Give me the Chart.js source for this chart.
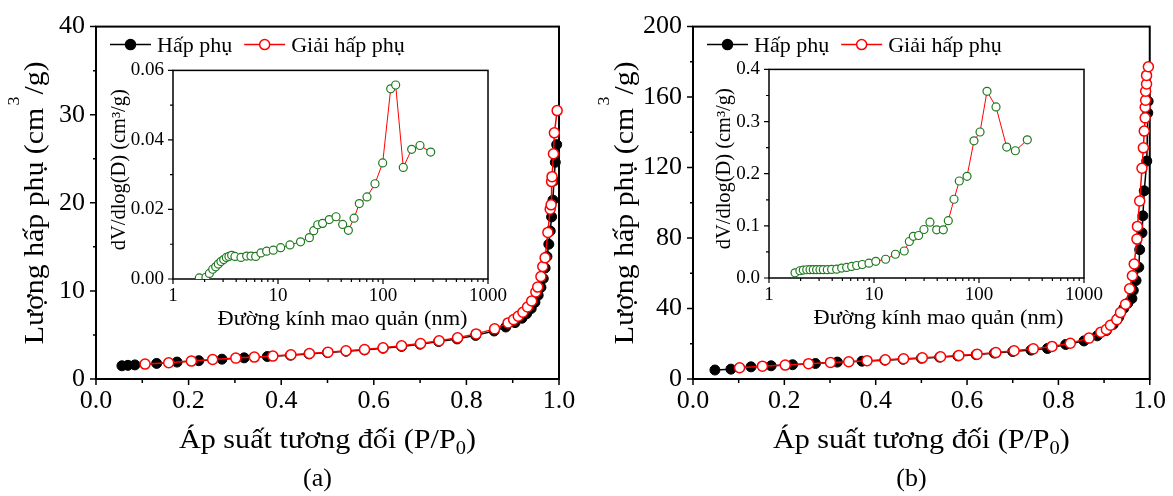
<!DOCTYPE html>
<html>
<head>
<meta charset="utf-8">
<script src="https://cdn.jsdelivr.net/npm/chart.js@4.4.1/dist/chart.umd.min.js"></script>
<style>
  body { margin: 0; background: #fff; }
  #fig { position: relative; width: 1173px; height: 496px; background: #fff; overflow: hidden; }
  canvas { position: absolute; }
</style>
</head>
<body>
<div id="fig">
  <canvas id="mainA" width="586" height="496" style="left:0;top:0"></canvas>
  <canvas id="mainB" width="587" height="496" style="left:586px;top:0"></canvas>
  <canvas id="insetA" width="413" height="285" style="left:100px;top:50px"></canvas>
  <canvas id="insetB" width="413" height="285" style="left:696px;top:49px"></canvas>
</div>
<script>
// ---- (a) isotherm: relative pressure / adsorbed volume
const adsA_p = [0.056, 0.069, 0.084, 0.131, 0.175, 0.222, 0.272, 0.320, 0.370, 0.420, 0.460, 0.500, 0.540, 0.580, 0.620, 0.660, 0.700, 0.740, 0.780, 0.820, 0.860, 0.885, 0.905, 0.920, 0.930, 0.940, 0.948, 0.955, 0.961, 0.966, 0.970, 0.974, 0.978, 0.981, 0.984, 0.987, 0.989, 0.992, 0.995];
const adsA_v = [1.50, 1.55, 1.60, 1.77, 1.92, 2.08, 2.25, 2.40, 2.55, 2.70, 2.85, 3.00, 3.15, 3.30, 3.50, 3.70, 3.95, 4.25, 4.55, 4.95, 5.45, 5.90, 6.40, 6.90, 7.40, 8.00, 8.70, 9.50, 10.4, 11.4, 12.6, 13.9, 15.3, 16.8, 18.4, 20.3, 22.5, 24.6, 26.6];
const desA_p = [0.106, 0.157, 0.206, 0.252, 0.302, 0.342, 0.382, 0.421, 0.461, 0.501, 0.540, 0.580, 0.620, 0.660, 0.701, 0.741, 0.781, 0.821, 0.861, 0.890, 0.902, 0.912, 0.922, 0.932, 0.941, 0.950, 0.954, 0.961, 0.965, 0.970, 0.976, 0.981, 0.983, 0.984, 0.985, 0.988, 0.990, 0.996];
const desA_v = [1.69, 1.84, 2.03, 2.22, 2.37, 2.49, 2.60, 2.75, 2.90, 3.05, 3.20, 3.35, 3.54, 3.77, 4.03, 4.33, 4.67, 5.12, 5.69, 6.37, 6.74, 7.12, 7.57, 8.17, 8.85, 9.87, 10.43, 11.64, 12.77, 13.75, 16.64, 19.28, 19.77, 22.41, 22.97, 25.57, 27.94, 30.47];

// ---- (b) isotherm
const adsB_p = [0.048, 0.083, 0.127, 0.171, 0.218, 0.268, 0.316, 0.370, 0.420, 0.460, 0.500, 0.540, 0.580, 0.620, 0.660, 0.700, 0.740, 0.776, 0.816, 0.856, 0.885, 0.905, 0.920, 0.932, 0.943, 0.952, 0.961, 0.964, 0.970, 0.976, 0.978, 0.983, 0.985, 0.988, 0.9935, 0.9957, 0.9965];
const adsB_v = [5.1, 5.6, 6.9, 7.5, 8.1, 8.8, 9.6, 10.1, 10.7, 11.2, 11.8, 12.4, 13.1, 13.8, 14.7, 15.6, 16.4, 17.3, 19.6, 21.6, 24.5, 27.5, 31.0, 35.0, 40.0, 43.0, 45.7, 50.3, 55.9, 63.4, 73.4, 83.0, 92.6, 106.8, 123.7, 151.0, 157.6];
const desB_p = [0.102, 0.152, 0.202, 0.253, 0.301, 0.341, 0.381, 0.421, 0.461, 0.502, 0.542, 0.582, 0.622, 0.663, 0.703, 0.745, 0.786, 0.826, 0.867, 0.893, 0.905, 0.914, 0.928, 0.936, 0.947, 0.956, 0.962, 0.966, 0.972, 0.973, 0.978, 0.983, 0.986, 0.988, 0.990, 0.990, 0.991, 0.991, 0.993, 0.993, 0.997];
const desB_v = [6.4, 7.3, 7.9, 8.7, 9.4, 9.8, 10.4, 10.9, 11.5, 12.0, 12.6, 13.4, 14.1, 15.0, 16.0, 17.1, 18.5, 20.3, 23.2, 26.6, 28.1, 30.5, 33.7, 37.7, 42.4, 51.2, 58.6, 65.3, 79.4, 86.6, 101.0, 119.6, 131.2, 140.7, 148.2, 154.2, 158.2, 163.3, 167.4, 172.3, 177.2];

// ---- pore size distributions (insets): diameter nm / dV/dlog(D)
const poreA_d = [1.78, 2.06, 2.22, 2.39, 2.55, 2.70, 2.86, 3.04, 3.22, 3.41, 3.62, 3.89, 4.44, 5.03, 5.53, 6.13, 6.88, 7.80, 9.02, 10.6, 13.0, 16.4, 19.9, 21.9, 23.9, 26.6, 30.8, 35.7, 41.3, 46.8, 53.0, 59.5, 70.4, 83.9, 99.3, 118.4, 132, 156, 187.5, 225, 284.6];
const poreA_v = [0.0003, 0.0005, 0.0016, 0.0028, 0.0035, 0.0043, 0.0050, 0.0056, 0.0062, 0.0065, 0.0068, 0.0065, 0.0062, 0.0066, 0.0066, 0.0065, 0.0075, 0.0080, 0.0083, 0.0090, 0.0098, 0.0107, 0.0119, 0.0139, 0.0156, 0.0160, 0.0171, 0.0179, 0.0157, 0.0140, 0.0175, 0.0217, 0.0236, 0.0274, 0.0334, 0.0547, 0.0558, 0.0321, 0.0373, 0.0384, 0.0365];
const poreB_d = [1.77, 1.97, 2.12, 2.29, 2.46, 2.64, 2.84, 3.06, 3.29, 3.59, 3.95, 4.41, 4.92, 5.49, 6.13, 6.84, 7.74, 8.96, 10.4, 12.9, 16.0, 19.4, 21.7, 23.7, 26.6, 29.9, 34.1, 39.5, 45.7, 51.0, 57.8, 64.9, 76.9, 89.6, 102.3, 119.2, 145.2, 183.6, 222, 288.4];
const poreB_v = [0.010, 0.0139, 0.0152, 0.0158, 0.016, 0.016, 0.016, 0.016, 0.016, 0.016, 0.0165, 0.017, 0.019, 0.0203, 0.0222, 0.024, 0.0259, 0.0284, 0.032, 0.036, 0.0455, 0.0518, 0.070, 0.080, 0.0815, 0.093, 0.107, 0.0923, 0.0923, 0.110, 0.151, 0.186, 0.195, 0.263, 0.280, 0.358, 0.328, 0.251, 0.244, 0.265];

// ---- ticks
const pTicks = [0, 0.2, 0.4, 0.6, 0.8, 1.0];
const pLabels = ['0.0', '0.2', '0.4', '0.6', '0.8', '1.0'];
const pMinor = [0.1, 0.3, 0.5, 0.7, 0.9];
const volTicksA = [0, 10, 20, 30, 40];
const volMinorA = [5, 15, 25, 35];
const volTicksB = [0, 40, 80, 120, 160, 200];
const volMinorB = [20, 60, 100, 140, 180];
const dTicks = [1, 10, 100, 1000];
const dLabels = ['1', '10', '100', '1000'];
const dMinor = [2, 3, 4, 5, 6, 7, 8, 9, 20, 30, 40, 50, 60, 70, 80, 90, 200, 300, 400, 500, 600, 700, 800, 900];
const psdTicksA = [0, 0.02, 0.04, 0.06];
const psdLabelsA = ['0.00', '0.02', '0.04', '0.06'];
const psdMinorA = [0.01, 0.03, 0.05];
const psdTicksB = [0, 0.1, 0.2, 0.3, 0.4];
const psdLabelsB = ['0.0', '0.1', '0.2', '0.3', '0.4'];
const psdMinorB = [0.05, 0.15, 0.25, 0.35];

const RED = '#ff0000';
const GREEN = '#1f7a1f';
const SERIF = "'Liberation Serif', 'Times New Roman', serif";

const pts = (xs, ys) => xs.map((x, i) => ({ x, y: ys[i] }));

function txt(ctx, s, x, y, size, align) {
  ctx.font = size + 'px ' + SERIF;
  ctx.textAlign = align || 'left';
  ctx.fillText(s, x, y);
  return ctx.measureText(s).width;
}

// text runs [string, size, dy, gapAfter], centred on cx and fitted to width w
function runs(ctx, parts, cx, y, w) {
  let total = 0;
  const ws = parts.map(p => {
    ctx.font = p[1] + 'px ' + SERIF;
    const pw = ctx.measureText(p[0]).width + (p[3] || 0);
    total += pw;
    return pw;
  });
  ctx.save();
  ctx.translate(cx - w / 2, y);
  ctx.scale(w / total, 1);
  ctx.textAlign = 'left';
  let x = 0;
  parts.forEach((p, i) => {
    ctx.font = p[1] + 'px ' + SERIF;
    ctx.fillText(p[0], x, p[2]);
    x += ws[i];
  });
  ctx.restore();
}

function legendItem(ctx, x, y, color, fill, label) {
  ctx.strokeStyle = color;
  ctx.lineWidth = 1.5;
  ctx.beginPath();
  ctx.moveTo(x, y);
  ctx.lineTo(x + 41, y);
  ctx.stroke();
  ctx.beginPath();
  ctx.arc(x + 20.5, y, 5, 0, Math.PI * 2);
  ctx.fillStyle = fill;
  ctx.fill();
  ctx.stroke();
  ctx.fillStyle = '#000';
  return x + 47 + txt(ctx, label, x + 47, y + 7, 22);
}

// frame, tick marks, titles and legend
const deco = {
  id: 'deco',
  beforeDatasetsDraw(chart, args, o) {
    const { ctx, chartArea: a } = chart;
    ctx.save();
    ctx.strokeStyle = '#000';
    ctx.lineWidth = o.frame;
    ctx.strokeRect(a.left, a.top, a.right - a.left, a.bottom - a.top);
    ctx.lineWidth = o.tickWidth;
    for (const t of o.ticks) {
      const s = chart.scales[t.axis];
      ctx.beginPath();
      for (const v of t.values) {
        const p = s.getPixelForValue(v);
        if (t.axis === 'x') { ctx.moveTo(p, a.bottom); ctx.lineTo(p, a.bottom + t.len); }
        else { ctx.moveTo(a.left, p); ctx.lineTo(a.left - t.len, p); }
      }
      ctx.stroke();
    }
    ctx.restore();
  },
  afterDraw(chart, args, o) {
    const { ctx, chartArea: a } = chart;
    const mid = (a.left + a.right) / 2;
    const midY = (a.top + a.bottom) / 2;
    ctx.save();
    ctx.fillStyle = '#000';
    ctx.textBaseline = 'alphabetic';
    if (o.kind === 'main') {
      runs(ctx, [['Áp suất tương đối (P/P', 28, 0], ['0', 19, 6], [')', 28, 0]], mid, a.bottom + 69, 297);
      txt(ctx, o.panel, mid - 10, a.bottom + 107, 26, 'center');

      ctx.save();
      ctx.translate(a.left - o.ytOff, midY);
      ctx.rotate(-Math.PI / 2);
      runs(ctx, [['Lượng hấp phụ (cm', 28, 0, 2], ['3', 17, -24, 2], ['/g)', 28, 0]], 0, 0, 283);
      ctx.restore();

      const ly = a.top + 18;
      const end = legendItem(ctx, a.left + 14, ly, '#000', '#000', 'Hấp phụ');
      legendItem(ctx, end + 12, ly, RED, '#fff', 'Giải hấp phụ');
    } else {
      ctx.save();
      ctx.translate(a.left - o.ytOff, midY - 5);
      ctx.rotate(-Math.PI / 2);
      runs(ctx, [['dV/dlog(D) (cm³/g)', 20, 0]], 0, 0, 161);
      ctx.restore();
      runs(ctx, [['Đường kính mao quản (nm)', 22, 0]], mid + 12, a.bottom + 46, 250);
    }
    ctx.restore();
  }
};

const tickFont = size => ({ family: SERIF, size });

function mainChart(id, o) {
  return new Chart(document.getElementById(id), {
    type: 'scatter',
    data: {
      datasets: [
        {
          label: 'Giải hấp phụ', data: pts(o.desP, o.desV), showLine: true,
          borderColor: RED, borderWidth: 1.5, pointRadius: 5, pointBorderWidth: 1.5,
          pointBorderColor: RED, pointBackgroundColor: '#fff', order: 0, clip: false
        },
        {
          label: 'Hấp phụ', data: pts(o.adsP, o.adsV), showLine: true,
          borderColor: '#000', borderWidth: 1.5, pointRadius: 5, pointBorderWidth: 1,
          pointBorderColor: '#000', pointBackgroundColor: '#000', order: 1, clip: false
        }
      ]
    },
    options: {
      responsive: false,
      animation: false,
      events: [],
      layout: { autoPadding: false, padding: o.pad },
      plugins: {
        legend: { display: false },
        tooltip: { enabled: false },
        deco: {
          kind: 'main', frame: 2, tickWidth: 1.5, panel: o.panel, ytOff: o.ytOff,
          ticks: [
            { axis: 'x', values: pTicks, len: 6 },
            { axis: 'x', values: pMinor, len: 4 },
            { axis: 'y', values: o.yTicks, len: 6 },
            { axis: 'y', values: o.yMinor, len: 3 }
          ]
        }
      },
      scales: {
        x: {
          type: 'linear', min: 0, max: 1,
          afterBuildTicks: s => { s.ticks = pTicks.map(v => ({ value: v })); },
          afterFit: s => { s.height = 117; },
          grid: { display: false, drawTicks: false },
          border: { display: false },
          ticks: { color: '#000', font: tickFont(26), padding: 7, autoSkip: false, maxRotation: 0, callback: (v, i) => pLabels[i] }
        },
        y: {
          type: 'linear', min: 0, max: o.yTicks[o.yTicks.length - 1],
          afterBuildTicks: s => { s.ticks = o.yTicks.map(v => ({ value: v })); },
          afterFit: s => { s.width = 70; },
          grid: { display: false, drawTicks: false },
          border: { display: false },
          ticks: { color: '#000', font: tickFont(26), padding: 11, autoSkip: false, callback: (v, i) => String(o.yTicks[i]) }
        }
      }
    },
    plugins: [deco]
  });
}

function insetChart(id, o) {
  return new Chart(document.getElementById(id), {
    type: 'scatter',
    data: {
      datasets: [{
        label: 'PSD', data: pts(o.d, o.v), showLine: true,
        borderColor: RED, borderWidth: 1, pointRadius: 4, pointBorderWidth: 1.2,
        pointBorderColor: GREEN, pointBackgroundColor: '#fff'
      }]
    },
    options: {
      responsive: false,
      animation: false,
      events: [],
      layout: { autoPadding: false, padding: { left: 13, right: 25, top: 18, bottom: 0 } },
      plugins: {
        legend: { display: false },
        tooltip: { enabled: false },
        deco: {
          kind: 'inset', frame: 1.5, tickWidth: 1.2, ytOff: o.ytOff,
          ticks: [
            { axis: 'x', values: dTicks, len: 5 },
            { axis: 'x', values: dMinor, len: 3 },
            { axis: 'y', values: o.yTicks, len: 5 },
            { axis: 'y', values: o.yMinor, len: 3 }
          ]
        }
      },
      scales: {
        x: {
          type: 'logarithmic', min: 1, max: 1000,
          afterBuildTicks: s => { s.ticks = dTicks.map(v => ({ value: v })); },
          afterFit: s => { s.height = 56; },
          grid: { display: false, drawTicks: false },
          border: { display: false },
          ticks: { color: '#000', font: tickFont(19), padding: 6, autoSkip: false, maxRotation: 0, callback: (v, i) => dLabels[i] }
        },
        y: {
          type: 'linear', min: 0, max: o.yTicks[o.yTicks.length - 1],
          afterBuildTicks: s => { s.ticks = o.yTicks.map(v => ({ value: v })); },
          afterFit: s => { s.width = 60; },
          grid: { display: false, drawTicks: false },
          border: { display: false },
          ticks: { color: '#000', font: tickFont(19), padding: 9, autoSkip: false, callback: (v, i) => o.yLabels[i] }
        }
      }
    },
    plugins: [deco]
  });
}

mainChart('mainA', {
  adsP: adsA_p, adsV: adsA_v, desP: desA_p, desV: desA_v,
  yTicks: volTicksA, yMinor: volMinorA, panel: '(a)', ytOff: 53,
  pad: { left: 26, right: 27, top: 25, bottom: 0 }
});
mainChart('mainB', {
  adsP: adsB_p, adsV: adsB_v, desP: desB_p, desV: desB_v,
  yTicks: volTicksB, yMinor: volMinorB, panel: '(b)', ytOff: 60,
  pad: { left: 37, right: 20, top: 25, bottom: 0 }
});
insetChart('insetA', { d: poreA_d, v: poreA_v, yTicks: psdTicksA, yLabels: psdLabelsA, yMinor: psdMinorA, ytOff: 48 });
insetChart('insetB', { d: poreB_d, v: poreB_v, yTicks: psdTicksB, yLabels: psdLabelsB, yMinor: psdMinorB, ytOff: 39 });
</script>
</body>
</html>
